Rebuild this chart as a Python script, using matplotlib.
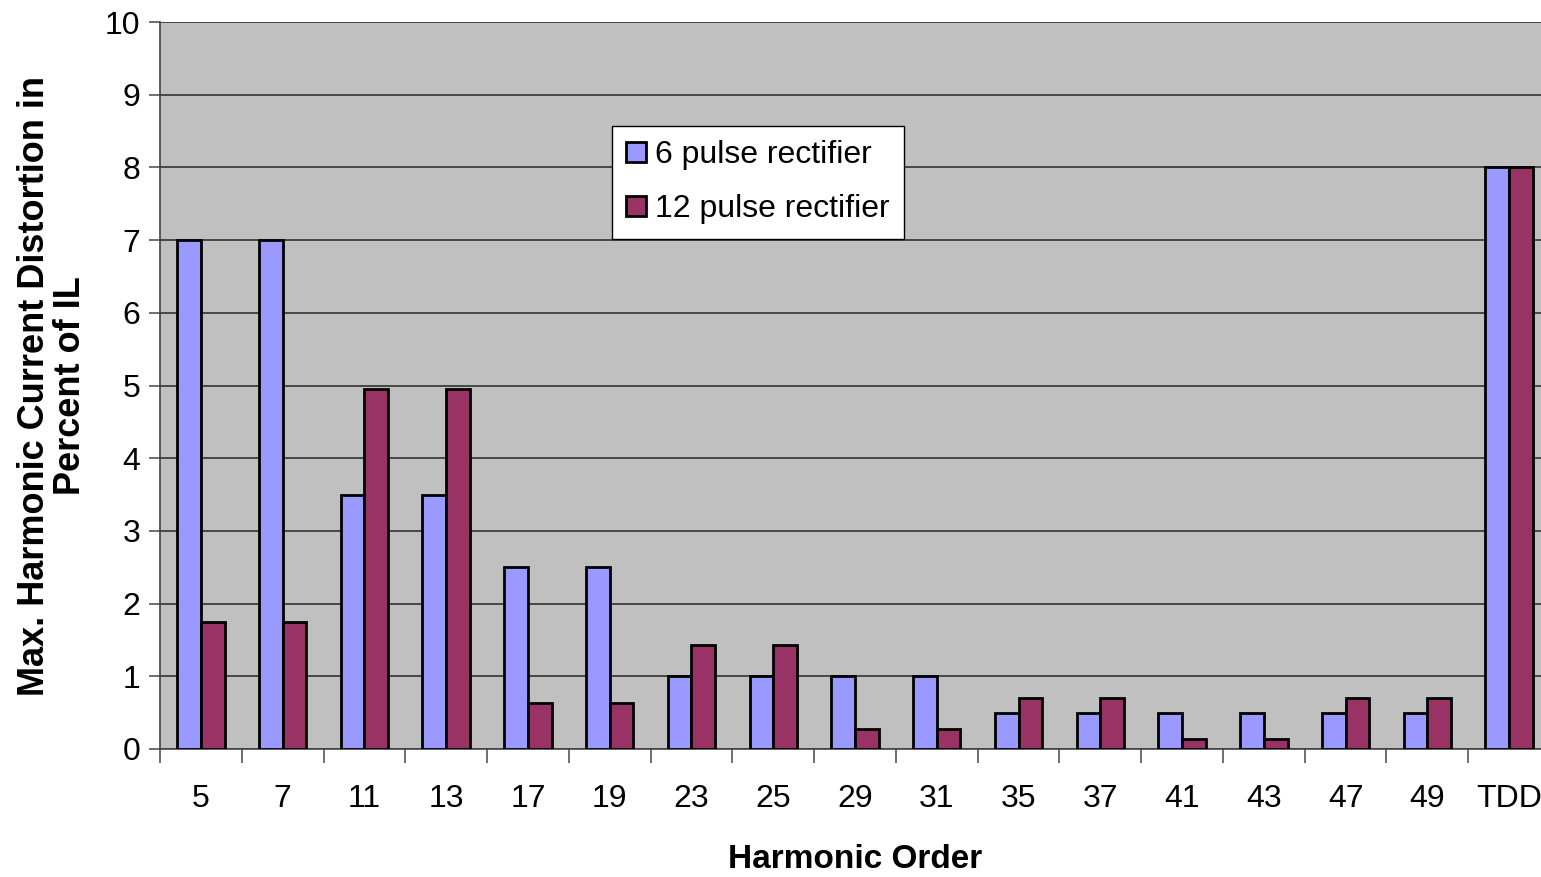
import numpy as np
import matplotlib.pyplot as plt
from matplotlib.ticker import FixedLocator

plt.rcParams['font.family'] = ['Liberation Sans', 'DejaVu Sans']

# data
orders = ['5', '7', '11', '13', '17', '19', '23', '25', '29', '31',
          '35', '37', '41', '43', '47', '49', 'TDD']
pulse6 = [7, 7, 3.5, 3.5, 2.5, 2.5, 1, 1, 1, 1,
          0.5, 0.5, 0.5, 0.5, 0.5, 0.5, 8]
pulse12 = [1.75, 1.75, 4.95, 4.95, 0.63, 0.63, 1.43, 1.43, 0.27, 0.27,
           0.7, 0.7, 0.14, 0.14, 0.7, 0.7, 8]

fig = plt.figure(figsize=(15.41, 8.77), dpi=100)
ax = fig.add_axes([160/1541, 1-749/877, 1390/1541, 727/877])
ax.set_facecolor('#C0C0C0')

x = np.arange(len(orders)) + 0.5
w = 0.29
ax.bar(x - w/2, pulse6, w, color='#9999FF', edgecolor='black', linewidth=2,
       label='6 pulse rectifier', zorder=3)
ax.bar(x + w/2, pulse12, w, color='#993366', edgecolor='black', linewidth=2,
       label='12 pulse rectifier', zorder=3)

ax.set_xlim(0, len(orders))
ax.set_ylim(0, 10)
ax.set_yticks(range(0, 11))
ax.yaxis.grid(True, color='#333333', linewidth=1.2, zorder=1)
ax.set_axisbelow(True)

ax.set_xticks(x)
ax.set_xticklabels(orders)
ax.xaxis.set_minor_locator(FixedLocator(np.arange(0, len(orders) + 1)))
ax.tick_params(axis='x', which='major', length=0, pad=25, labelsize=23)
ax.tick_params(axis='x', which='minor', length=10, width=1.2, color='#555555')
ax.tick_params(axis='y', length=8, width=1.2, color='#555555', labelsize=23, pad=6)

for s in ['top', 'right']:
    ax.spines[s].set_visible(False)
for s in ['left', 'bottom']:
    ax.spines[s].set_color('#444444')
    ax.spines[s].set_linewidth(1.2)

ax.set_xlabel('Harmonic Order', fontsize=24, fontweight='bold', labelpad=22)
ax.set_ylabel('Max. Harmonic Current Distortion in\nPercent of IL', fontsize=26,
              fontweight='bold', labelpad=12, linespacing=1.05)

leg = ax.legend(loc='upper left', bbox_to_anchor=(452/1390, 1-104/727),
                fontsize=23, frameon=True, fancybox=False, handlelength=0.6,
                handleheight=0.6, handletextpad=0.3, labelspacing=0.75,
                borderpad=0.45, borderaxespad=0)
leg.get_frame().set_edgecolor('black')
leg.get_frame().set_linewidth(1)
leg.get_frame().set_facecolor('white')
leg.get_frame().set_alpha(1)

plt.savefig('out.png', dpi=100)
